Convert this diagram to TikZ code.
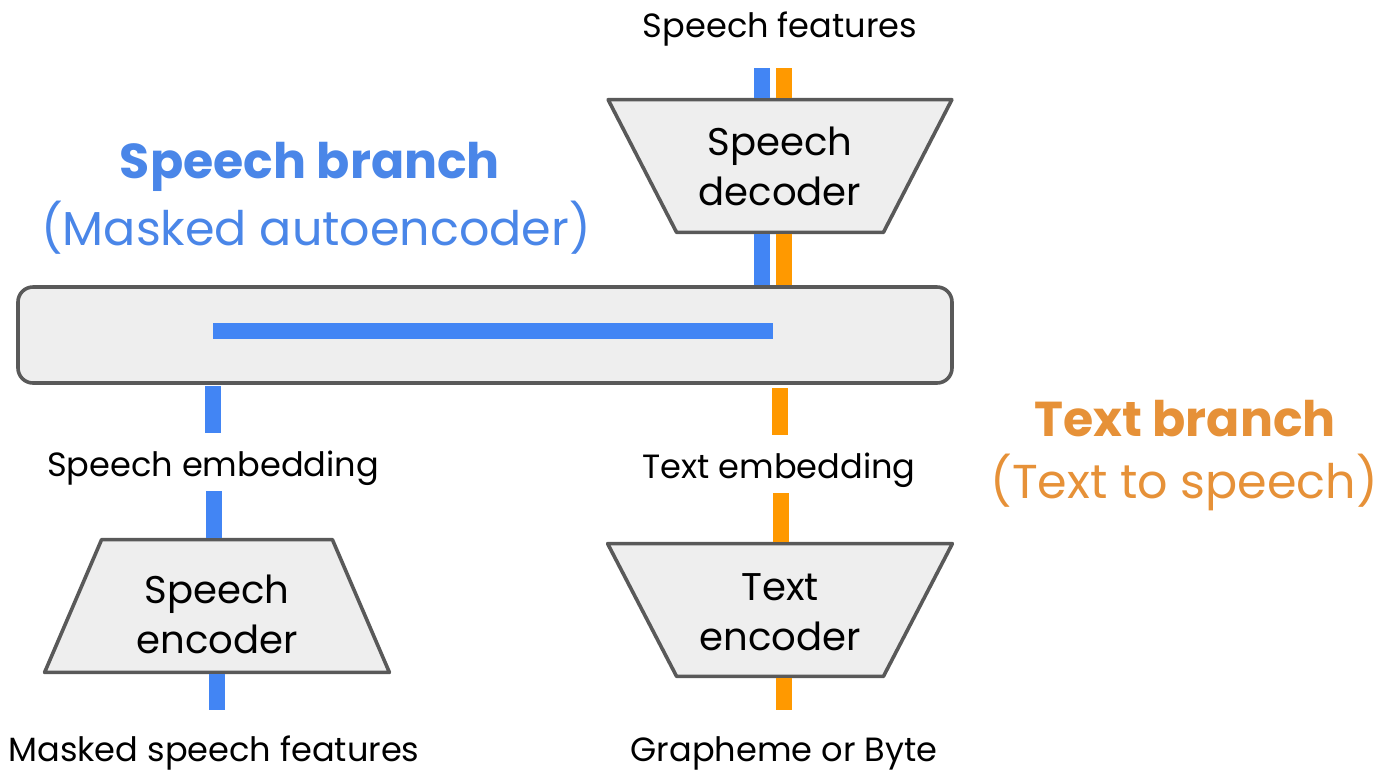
\documentclass[tikz,border=0pt]{standalone}
\usepackage{fontspec}
\setmainfont{Poppins}
\usetikzlibrary{calc}
\definecolor{gblue}{HTML}{4285F4}
\definecolor{gorange}{HTML}{FF9900}
\definecolor{tblue}{HTML}{4A86E8}
\definecolor{torange}{HTML}{E69138}
\definecolor{boxfill}{HTML}{EEEEEE}
\definecolor{boxline}{HTML}{595959}
\tikzset{
  label/.style={inner sep=0pt, font=\fontsize{16.8}{20}\selectfont},
  blockbox/.style={inner sep=0pt, align=center, font=\fontsize{19.3}{25}\selectfont},
  shapeline/.style={draw=boxline, line width=1.8pt, fill=boxfill, line join=round},
  outline/.style={draw=boxline, line width=1.8pt},
  bluewire/.style={draw=gblue, line width=8pt},
  orangewire/.style={draw=gorange, line width=8pt},
  titlebold/.style={inner sep=0pt, font=\fontsize{24.5}{30}\selectfont\bfseries},
  titlereg/.style={inner sep=0pt, font=\fontsize{23.8}{30}\selectfont},
}
\begin{document}
\begin{tikzpicture}[x=0.5pt, y=-0.5pt]
\useasboundingbox (0,0) rectangle (1383,773);

% shared embedding bar
\node[shapeline, rounded corners=7.5pt, minimum width=467pt, minimum height=48pt, inner sep=0pt] (bar) at (485,335) {};

% speech decoder (wide at the top)
\node[minimum width=171.5pt, minimum height=66pt, inner sep=0pt] (dec) at (780,166) {};
\draw[shapeline] (dec.north west) -- (dec.north east) -- ($(dec.south east)+(-68.5,0)$) -- ($(dec.south west)+(68.5,0)$) -- cycle;
\node[blockbox] (dectext) at (780,166) {Speech\\decoder};

% speech encoder (wide at the bottom)
\node[minimum width=172pt, minimum height=66pt, inner sep=0pt] (senc) at (217,606) {};
\draw[shapeline] ($(senc.north west)+(57,0)$) -- ($(senc.north east)+(-57,0)$) -- (senc.south east) -- (senc.south west) -- cycle;
\node[blockbox] (senctext) at (217,614) {Speech\\encoder};

% text encoder (wide at the top)
\node[minimum width=172pt, minimum height=66pt, inner sep=0pt] (tenc) at (780,610) {};
\draw[shapeline] (tenc.north west) -- (tenc.north east) -- ($(tenc.south east)+(-69,0)$) -- ($(tenc.south west)+(69,0)$) -- cycle;
\node[blockbox] (tenctext) at (780,612) {Text\\encoder};

% labels
\node[label] (sfeat) at (780,29) {Speech features};
\node[label] (semb) at (213,468) {Speech embedding};
\node[label] (temb) at (779,470) {Text embedding};
\node[label] (msf) at (214,753) {Masked speech features};
\node[label] (gob) at (784,753) {Grapheme or Byte};

% titles
\node[titlebold, text=tblue] (sbr) at (310,167) {Speech branch};
\node[titlereg, text=tblue] (sbrsub) at (316,228) {(Masked autoencoder)};
\node[titlebold, text=torange] (tbr) at (1185,419) {Text branch};
\node[titlereg, text=torange] (tbrsub) at (1184,482) {(Text to speech)};

% wire end points
\coordinate (sfB) at (762,68);
\coordinate (sfO) at (784,68);
\coordinate (barinL) at (213,331);
\coordinate (barinR) at (773,331);
\coordinate (sembT) at (213,386);
\coordinate (sembTb) at (213,433);
\coordinate (sembB) at (213.5,491);
\coordinate (msfT) at (217,710);
\coordinate (tembT) at (780,388);
\coordinate (tembTb) at (780,435);
\coordinate (tembB) at (781,493);
\coordinate (gobT) at (784,710);

% speech branch wires
\draw[bluewire] (sfB) -- (sfB |- dec.north);
\draw[bluewire] (dec.south -| sfB) -- (bar.north -| sfB);
\draw[bluewire] (barinL) -- (barinR);
\draw[bluewire] (sembT) -- (sembTb);
\draw[bluewire] (sembB) -- (sembB |- senc.north);
\draw[bluewire] (msfT |- senc.south) -- (msfT);

% text branch wires
\draw[orangewire] (sfO) -- (sfO |- dec.north);
\draw[orangewire] (dec.south -| sfO) -- (bar.north -| sfO);
\draw[orangewire] (tembT) -- (tembTb);
\draw[orangewire] (tembB) -- (tembB |- tenc.north);
\draw[orangewire] (gobT |- tenc.south) -- (gobT);

% redraw block outlines over wire ends
\draw[outline] (dec.north west) -- (dec.north east);
\draw[outline] ($(dec.south east)+(-68.5,0)$) -- ($(dec.south west)+(68.5,0)$);
\draw[outline] ($(senc.north west)+(57,0)$) -- ($(senc.north east)+(-57,0)$);
\draw[outline] (senc.south east) -- (senc.south west);
\draw[outline] (tenc.north west) -- (tenc.north east);
\draw[outline] ($(tenc.south east)+(-69,0)$) -- ($(tenc.south west)+(69,0)$);
\end{tikzpicture}
\end{document}
